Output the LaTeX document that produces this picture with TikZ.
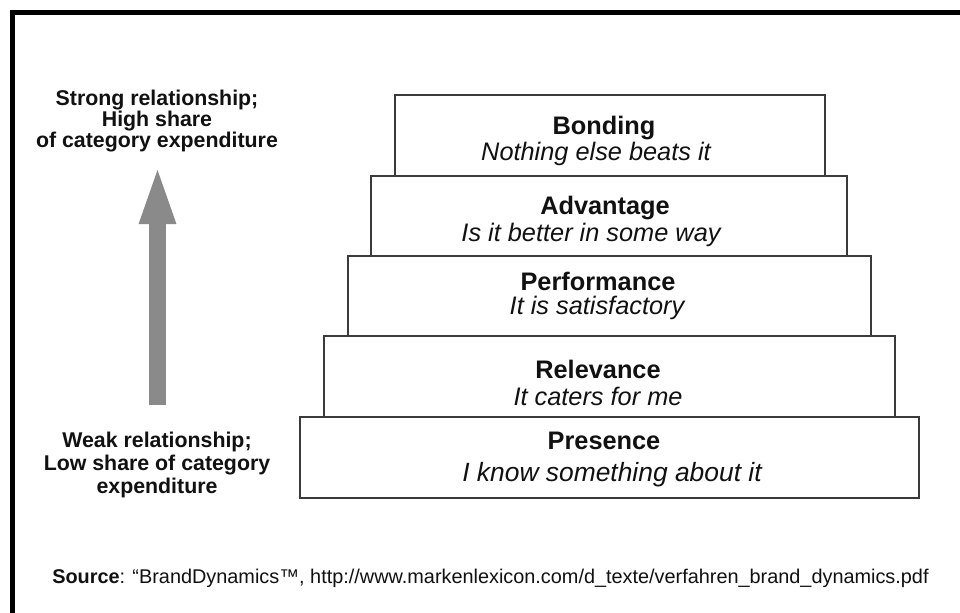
\documentclass[tikz,border=0pt]{standalone}
\usepackage{fontspec}
\setmainfont{Liberation Sans}
\usetikzlibrary{arrows.meta}
\definecolor{boxline}{HTML}{3A3A3A}
\definecolor{arrowgray}{HTML}{8A8A8A}
\definecolor{ink}{HTML}{111111}
\tikzset{
  tier/.style={draw=boxline, line width=1.1pt, fill=white, inner sep=0pt},
  tiertitle/.style={font=\fontsize{19}{22}\selectfont\bfseries, text=ink, inner sep=0pt, anchor=center},
  tiersub/.style={font=\fontsize{19}{22}\selectfont\itshape, text=ink, inner sep=0pt, anchor=center},
  sidelabel/.style={font=\fontsize{16}{15.5}\selectfont\bfseries, text=ink, align=center, inner sep=0pt},
  bigarrow/.style={draw=arrowgray, line width=12.75pt, -{Triangle[length=45.75pt, width=24pt, fill=arrowgray]}}
}
\begin{document}
\begin{tikzpicture}[x=0.75pt, y=-0.75pt]
\useasboundingbox (0,0) rectangle (960,613);
\fill[white] (0,0) rectangle (960,613);
% frame (L-shaped, cropped)
\draw[black, line width=3.75pt] (12.5,613) -- (12.5,12.5) -- (960,12.5);

% tiers
\node[tier, minimum width=619*0.75pt, minimum height=81*0.75pt] (presence) at (609.5,457.5) {};
\node[tier, minimum width=571*0.75pt, minimum height=81*0.75pt] (relevance) at (609.5,376.5) {};
\node[tier, minimum width=523*0.75pt, minimum height=80*0.75pt] (performance) at (609.5,296) {};
\node[tier, minimum width=476*0.75pt, minimum height=80*0.75pt] (advantage) at (609,216) {};
\node[tier, minimum width=430*0.75pt, minimum height=81*0.75pt] (bonding) at (610,135.5) {};

\node[tiertitle] (t5) at (604,128) {Bonding};
\node[tiersub]   (s5) at (596,154) {Nothing else beats it};
\node[tiertitle] (t4) at (605,208) {Advantage};
\node[tiersub]   (s4) at (591,235) {Is it better in some way};
\node[tiertitle] (t3) at (598,281) {Performance};
\node[tiersub]   (s3) at (597,308) {It is satisfactory};
\node[tiertitle] (t2) at (598,369) {Relevance};
\node[tiersub]   (s2) at (598,396) {It caters for me};
\node[tiertitle] (t1) at (604,441) {Presence};
\node[tiersub, font=\fontsize{19.8}{22}\selectfont\itshape] (s1) at (612,475) {I know something about it};

% side labels
\node[sidelabel] (strong) at (157,121) {Strong relationship;\\High share\\of category expenditure};
\node[sidelabel, font=\fontsize{16}{17}\selectfont\bfseries] (weak) at (157,465) {Weak relationship;\\Low share of category\\expenditure};

% big arrow
\coordinate (abot) at (157.5,405);
\coordinate (atop) at (157.5,163);
\draw[bigarrow] (abot) -- (atop);

% source
\node[font=\fontsize{14.9}{16}\selectfont, text=ink, anchor=west, inner sep=0pt] (source) at (52,578)
  {\textbf{Source}: “BrandDynamics™, http://www.markenlexicon.com/d\_texte/verfahren\_brand\_dynamics.pdf};
\end{tikzpicture}
\end{document}
